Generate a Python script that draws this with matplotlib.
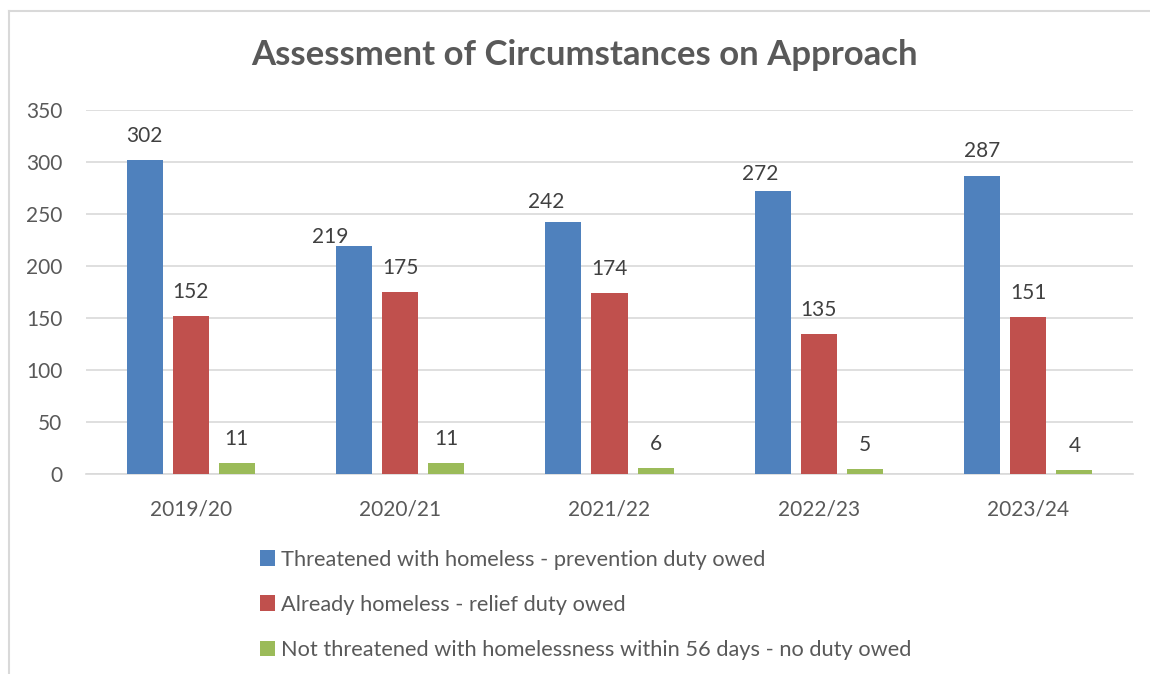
import numpy as np
import matplotlib.pyplot as plt
from matplotlib.lines import Line2D

# данные с графика
years = ['2019/20', '2020/21', '2021/22', '2022/23', '2023/24']
prevention = [302, 219, 242, 272, 287]
relief = [152, 175, 174, 135, 151]
no_duty = [11, 11, 6, 5, 4]
labels = ['Threatened with homeless - prevention duty owed',
          'Already homeless - relief duty owed',
          'Not threatened with homelessness within 56 days - no duty owed']
colors = ['#4F81BD', '#C0504D', '#9BBB59']

# подписи синей серии сдвинуты вручную, как в оригинале (пиксели)
nudge_blue = [(0, 14), (-24, -1), (-17, 10), (-13, 7), (0, 15)]

plt.rcParams['font.family'] = ['Lato', 'DejaVu Sans']
txt = '#595959'

fig = plt.figure(figsize=(11.5, 6.74), dpi=100)
W, H = 1150, 674
# область построения в пикселях: x 86..1133, y 110..474
ax = fig.add_axes([86 / W, 1 - 474 / H, (1133 - 86) / W, (474 - 110) / H])

x = np.arange(len(years))
w = 0.172
off = 0.22
for i, (vals, c, lab) in enumerate(zip([prevention, relief, no_duty], colors, labels)):
    bars = ax.bar(x + (i - 1) * off, vals, w, color=c, label=lab, zorder=3)
    for j, (b, v) in enumerate(zip(bars, vals)):
        d = nudge_blue[j] if i == 0 else (0, 14)
        ax.annotate(str(v), (b.get_x() + b.get_width() / 2, v), xytext=d,
                    textcoords='offset pixels', ha='center', va='bottom',
                    fontsize=15, color='#404040')

ax.set_xlim(-0.5, 4.5)
ax.set_ylim(0, 350)
ax.set_yticks(range(0, 351, 50))
ax.set_xticks(x)
ax.set_xticklabels(years)
ax.grid(axis='y', color='#D9D9D9', linewidth=1.2, zorder=0)
for s in ['top', 'right', 'left']:
    ax.spines[s].set_visible(False)
ax.spines['bottom'].set_color('#D9D9D9')
ax.spines['bottom'].set_linewidth(1.2)
ax.tick_params(length=0, labelsize=15, colors=txt)
ax.tick_params(axis='y', pad=17)
ax.tick_params(axis='x', pad=18)

fig.text(585 / W, 1 - 55 / H, 'Assessment of Circumstances on Approach',
         ha='center', va='center', fontsize=25, fontweight='bold', color=txt)

leg = fig.legend(loc='upper left', bbox_to_anchor=(240 / W, 1 - 530 / H),
                 frameon=False, fontsize=15.7, labelcolor=txt,
                 handlelength=0.7, handleheight=0.7, handletextpad=0.3,
                 labelspacing=1.15)

# рамка диаграммы (обрезана справа и снизу)
fig.add_artist(Line2D([9 / W, 9 / W], [0, 1 - 11 / H], color='#D9D9D9', lw=1.5))
fig.add_artist(Line2D([9 / W, 1], [1 - 11 / H, 1 - 11 / H], color='#D9D9D9', lw=1.5))

fig.savefig('out.png', dpi=100)
